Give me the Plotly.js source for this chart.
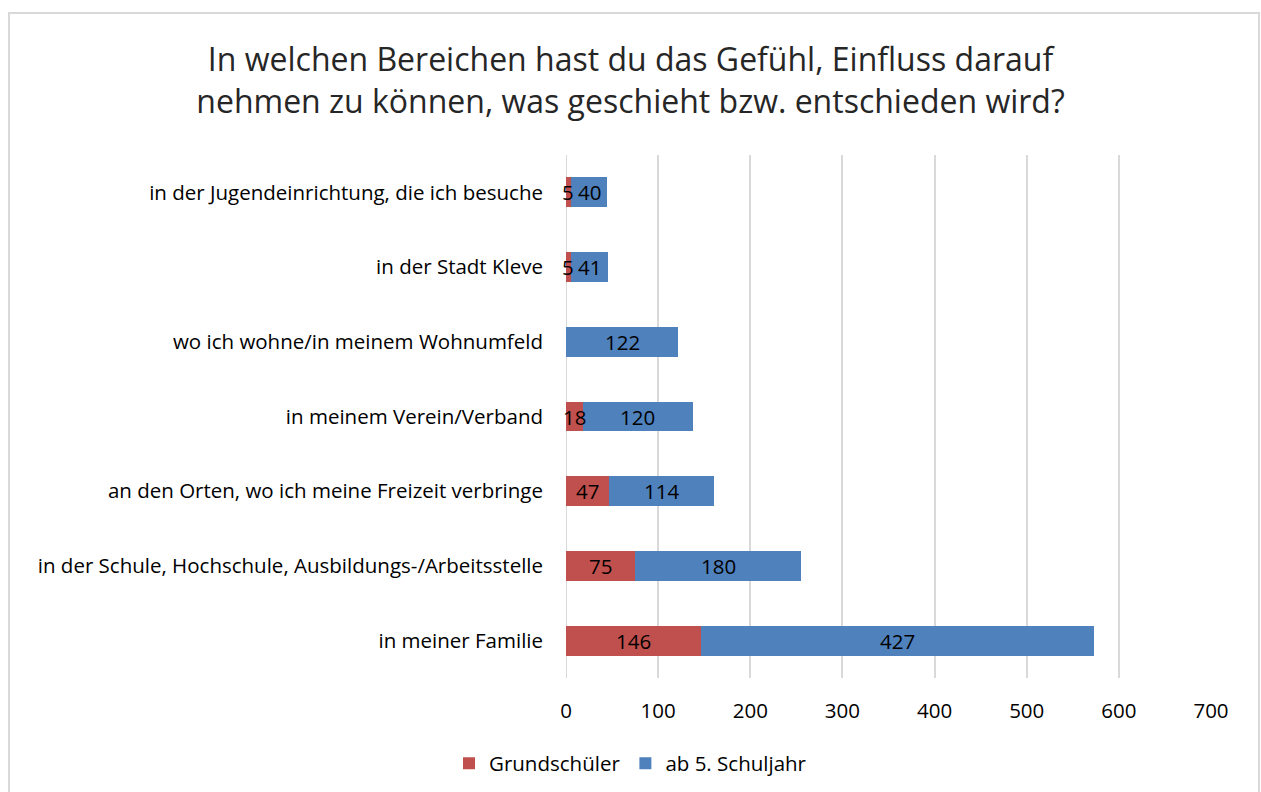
<!DOCTYPE html>
<html>
<head>
<meta charset="utf-8">
<script src="https://cdn.plot.ly/plotly-3.0.1.min.js"></script>
<style>
body{margin:0;padding:0;background:#fff;}
#wrap{position:relative;width:1261px;height:792px;overflow:hidden;}
#chart{position:absolute;left:0;top:0;width:1261px;height:792px;}
#frame{position:absolute;left:8px;top:12px;width:1248px;height:800px;border:2px solid #d9d9d9;pointer-events:none;}
</style>
</head>
<body>
<div id="wrap"><div id="chart"></div><div id="frame"></div></div>
<script>
const categories = [
  "in meiner Familie",
  "in der Schule, Hochschule, Ausbildungs-/Arbeitsstelle",
  "an den Orten, wo ich meine Freizeit verbringe",
  "in meinem Verein/Verband",
  "wo ich wohne/in meinem Wohnumfeld",
  "in der Stadt Kleve",
  "in der Jugendeinrichtung, die ich besuche"
];
const grundschueler = [146, 75, 47, 18, 0, 5, 5];
const ab5Schuljahr = [427, 180, 114, 120, 122, 41, 40];
const xTicks = [0, 100, 200, 300, 400, 500, 600, 700];

const font = "'Open Sans', 'Noto Sans', sans-serif";
const labelFont = {family: font, size: 20.5, color: "#000"};

const data = [
  {type: "bar", orientation: "h", name: "Grundschüler", y: categories, x: grundschueler,
   marker: {color: "#c0504d"}, textposition: "none", hoverinfo: "x+name"},
  {type: "bar", orientation: "h", name: "ab 5. Schuljahr", y: categories, x: ab5Schuljahr,
   marker: {color: "#4f81bd"}, textposition: "none", hoverinfo: "x+name"}
];

// value labels centred in each segment, positioned via data coordinates
const annotations = [];
categories.forEach((c, i) => {
  const r = grundschueler[i], b = ab5Schuljahr[i];
  if (r) annotations.push({x: r / 2, y: c, xref: "x", yref: "y", text: String(r), showarrow: false, font: labelFont});
  if (b) annotations.push({x: r + b / 2, y: c, xref: "x", yref: "y", text: String(b), showarrow: false, font: labelFont});
});

const layout = {
  width: 1261, height: 792,
  margin: {l: 566, r: 50, t: 155, b: 114},
  barmode: "stack",
  bargap: 0.6,
  paper_bgcolor: "#fff", plot_bgcolor: "#fff",
  font: {family: font, color: "#404040"},
  title: {
    text: "In welchen Bereichen hast du das Gefühl, Einfluss darauf<br>nehmen zu können, was geschieht bzw. entschieden wird?",
    font: {family: font, size: 32, color: "#262626"},
    x: 0.5, xanchor: "center", y: 0.91, yanchor: "middle"
  },
  xaxis: {
    range: [0, 700], tickvals: xTicks, ticktext: xTicks.map(String),
    showgrid: true, gridcolor: "#d9d9d9", gridwidth: 2,
    zeroline: false, showline: false, ticks: "",
    tickfont: labelFont,
    ticklabelstandoff: 18
  },
  yaxis: {
    type: "category", showgrid: false, zeroline: false, showline: false,
    ticks: "", ticklabelstandoff: 22,
    tickfont: labelFont
  },
  shapes: [{type: "line", xref: "x", yref: "paper", x0: 0, x1: 0, y0: 0, y1: 1, line: {color: "#d9d9d9", width: 2}, layer: "below"}],
  annotations: annotations,
  legend: {
    orientation: "h", x: 0.5, xanchor: "center", xref: "container",
    y: 0.036, yref: "container", yanchor: "middle",
    font: labelFont, traceorder: "normal", itemwidth: 30
  },
  showlegend: true
};
Plotly.newPlot("chart", data, layout, {displayModeBar: false, staticPlot: true});
</script>
</body>
</html>
